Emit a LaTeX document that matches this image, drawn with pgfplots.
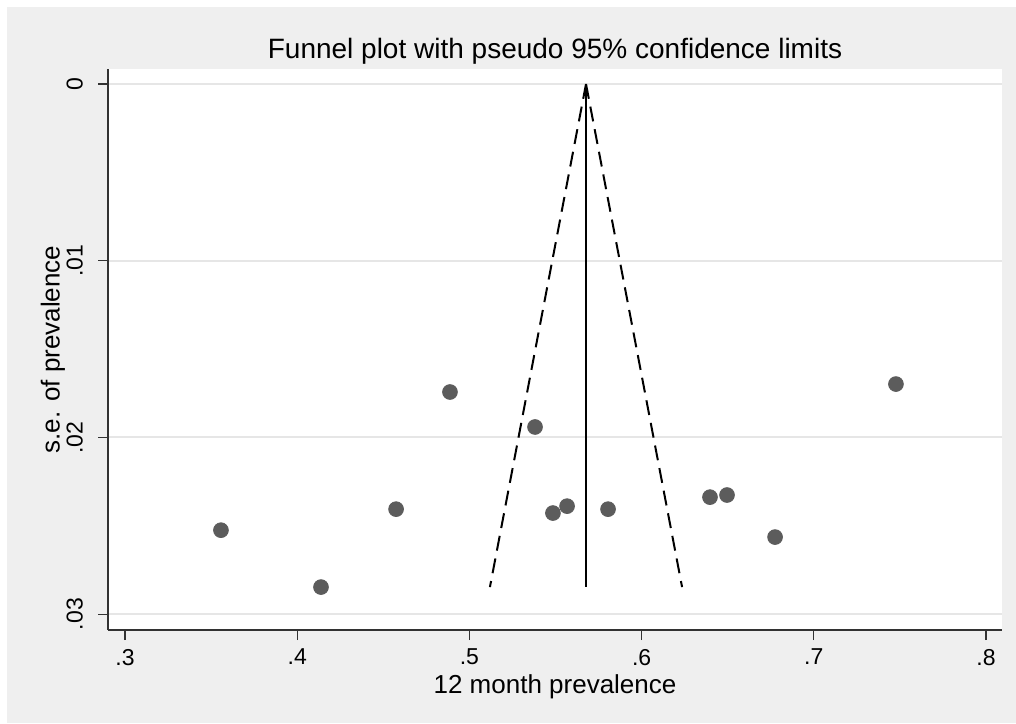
\documentclass[border=0pt]{standalone}
\usepackage{pgfplots}
\pgfplotsset{compat=1.18}
\usepackage{fontspec}
\setmainfont{Liberation Sans}
\definecolor{bggray}{RGB}{239,239,239}
\definecolor{gridgray}{RGB}{230,230,230}
\definecolor{ptgray}{RGB}{92,92,92}
\definecolor{axgray}{RGB}{50,50,50}
\begin{document}
\begin{tikzpicture}
\fill[white] (0pt,0pt) rectangle (508pt,-361.5pt);
\fill[bggray] (3.5pt,-3.5pt) rectangle (508pt,-361.5pt);
\begin{axis}[
  at={(54pt,-315pt)}, anchor=south west,
  scale only axis, width=447pt, height=280.5pt,
  xmin=0.2901, xmax=0.8093,
  ymin=-0.00085, ymax=0.0309,
  y dir=reverse,
  scaled ticks=false,
  axis background/.style={fill=white},
  axis x line*=bottom, axis y line*=left,
  axis line style={axgray, line width=0.6pt},
  xtick={0.3,0.4,0.5,0.6,0.7,0.8},
  xticklabels={.3,.4,.5,.6,.7,.8},
  ytick={0,0.01,0.02,0.03},
  yticklabels={0,.01,.02,.03},
  tick align=outside, major tick length=5pt,
  tick style={axgray, line width=0.6pt},
  ymajorgrids, xmajorgrids=false,
  major grid style={gridgray, line width=1pt},
  /pgf/number format/assume math mode=true,
  ticklabel style={font=\fontsize{11.5}{13}\selectfont, text=black},
  yticklabel style={rotate=90, anchor=south},
  yticklabel shift=4pt,
  xticklabel shift=1pt,
  xlabel={12 month prevalence},
  ylabel={s.e. of prevalence},
  label style={font=\fontsize{13}{15}\selectfont},
  xlabel style={at={(axis description cs:0.5,-0.1007)}, anchor=center},
  ylabel style={at={(axis description cs:-0.0615,0.5)}, anchor=center},
  title={Funnel plot with pseudo 95\% confidence limits},
  title style={font=\fontsize{14}{16}\selectfont, at={(axis description cs:0.5,1.0339)}, anchor=center, yshift=-6.5pt},
  clip=false,
]
\addplot[only marks, mark=*, mark size=3.7pt, mark options={fill=ptgray, draw=ptgray}] coordinates {
  (0.3557,0.02525) (0.4138,0.02847) (0.4574,0.02406) (0.4887,0.01743)
  (0.5381,0.01941) (0.5485,0.02428) (0.5567,0.02389) (0.5805,0.02406)
  (0.6397,0.02338) (0.6496,0.02326) (0.6775,0.02564) (0.7477,0.01698)
};
\addplot[black, line width=1pt, dash pattern=on 7.5pt off 4pt] coordinates {(0.5677,0) (0.5119,0.02847)};
\addplot[black, line width=1pt, dash pattern=on 7.5pt off 4pt] coordinates {(0.5677,0) (0.6235,0.02847)};
\addplot[black, line width=1pt] coordinates {(0.5677,0) (0.5677,0.02847)};
\end{axis}
\end{tikzpicture}
\end{document}
